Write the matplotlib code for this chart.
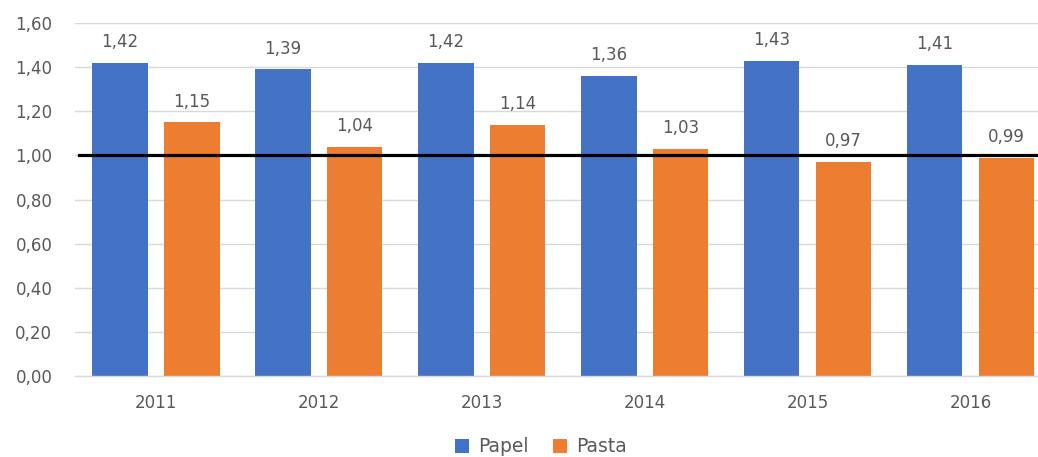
import matplotlib.pyplot as plt
import numpy as np

# Índices por año
anos = ['2011', '2012', '2013', '2014', '2015', '2016']
papel = [1.42, 1.39, 1.42, 1.36, 1.43, 1.41]
pasta = [1.15, 1.04, 1.14, 1.03, 0.97, 0.99]
yticks = [0.0, 0.2, 0.4, 0.6, 0.8, 1.0, 1.2, 1.4, 1.6]

AZUL = '#4472C4'
NARANJA = '#ED7D31'
GRIS = '#595959'

def coma(v):
    return f'{v:.2f}'.replace('.', ',')

plt.rcParams['font.family'] = ['DejaVu Sans']

fig = plt.figure(figsize=(10.38, 4.57), dpi=100)
# el área del gráfico sigue más allá del borde derecho
ax = fig.add_axes([0.0718, 0.1772, 0.9417, 0.7724])

x = np.arange(len(anos))
w = 0.34
ax.bar(x - 0.22, papel, w, color=AZUL, zorder=2, label='Papel')
ax.bar(x + 0.22, pasta, w, color=NARANJA, zorder=2, label='Pasta')

for xi, v in zip(x, papel):
    ax.annotate(coma(v), (xi - 0.22, v), xytext=(0, 8.5), textcoords='offset points',
                ha='center', va='bottom', fontsize=12, color=GRIS)
for xi, v in zip(x, pasta):
    ax.annotate(coma(v), (xi + 0.22, v), xytext=(0, 8.5), textcoords='offset points',
                ha='center', va='bottom', fontsize=12, color=GRIS)

# línea de referencia en 1,00
ax.axhline(1.0, xmin=0.005, color='black', linewidth=2.3, zorder=3)

ax.set_xlim(-0.5, len(anos) - 0.5)
ax.set_ylim(0, 1.6)
ax.set_yticks(yticks)
ax.set_yticklabels([coma(t) for t in yticks])
ax.set_xticks(x)
ax.set_xticklabels(anos)
ax.tick_params(axis='y', length=0, pad=16, labelsize=12, labelcolor=GRIS)
ax.tick_params(axis='x', length=0, pad=13, labelsize=12, labelcolor=GRIS)
ax.yaxis.grid(True, color='#d9d9d9', linewidth=1, zorder=0)
ax.set_axisbelow(True)
for s in ['top', 'right', 'left']:
    ax.spines[s].set_visible(False)
ax.spines['bottom'].set_color('#d9d9d9')
ax.spines['bottom'].set_linewidth(1)

h, l = ax.get_legend_handles_labels()
fig.legend(h, l, loc='center', bbox_to_anchor=(0.521, 0.022), ncol=2, frameon=False,
           fontsize=13.5, labelcolor=GRIS, handlelength=0.75, handleheight=0.75,
           handletextpad=0.5, columnspacing=1.3)

fig.savefig('out.png', dpi=100)
